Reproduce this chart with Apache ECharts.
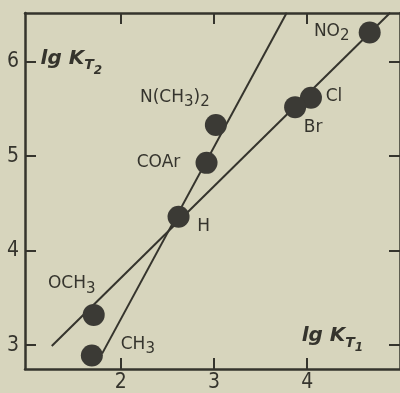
<!DOCTYPE html>
<html><head><meta charset="utf-8">
<script src="https://cdn.jsdelivr.net/npm/echarts@6/dist/echarts.min.js"></script>
<style>html,body{margin:0;padding:0;background:#d7d5bd;}#c{width:400px;height:393px;}</style>
</head><body><div id="c"></div>
<script>
// Data
const substituents = ['NO2', 'Cl', 'Br', 'N(CH3)2', 'COAr', 'H', 'OCH3', 'CH3'];
const lgKT1 = [4.67, 4.04, 3.87, 3.02, 2.92, 2.62, 1.71, 1.69];
const lgKT2 = [6.31, 5.62, 5.52, 5.33, 4.93, 4.36, 3.32, 2.89];
const line1X = [1.26, 4.89];
const line1Y = [2.99, 6.52];
const line2X = [1.80, 3.78];
const line2Y = [2.91, 6.52];
const xTicks = [2, 3, 4];
const yTicks = [3, 4, 5, 6];
const axisTitleX = [1.47, 4.27];
const axisTitleY = [6.02, 3.08];

// Styles
const ink = '#35342d';
const font = 'DejaVu Sans';
const labelText = {
  'NO2': '{m|NO}{s|2}', 'Cl': '{m|Cl}', 'Br': '{m|Br}', 'N(CH3)2': '{m|N(CH}{s|3}{m|)}{s|2}',
  'COAr': '{m|COAr}', 'H': '{m|H}', 'OCH3': '{m|OCH}{s|3}', 'CH3': '{m|CH}{s|3}'
};
const labelOffsets = {
  'NO2': [-38, 0], 'Cl': [23, 0], 'Br': [18, 21], 'N(CH3)2': [-41, -27],
  'COAr': [-48, 1], 'H': [25, 11], 'OCH3': [-22, -30], 'CH3': [46, -10]
};
const richLabel = {
  m: { fontSize: 17, fontFamily: font, color: ink, lineHeight: 19, verticalAlign: 'top' },
  s: { fontSize: 15, fontFamily: font, color: ink, lineHeight: 16, verticalAlign: 'top', padding: [6, 0, 0, 0] }
};
const titleRich = {
  i: { fontSize: 20, fontStyle: 'italic', fontWeight: 'bold', fontFamily: font, color: ink, lineHeight: 23, verticalAlign: 'top' },
  t: { fontSize: 14, fontStyle: 'italic', fontWeight: 'bold', fontFamily: font, color: ink, lineHeight: 15, verticalAlign: 'top', padding: [10, 0, 0, 0] },
  u: { fontSize: 12, fontStyle: 'italic', fontWeight: 'bold', fontFamily: font, color: ink, lineHeight: 13, verticalAlign: 'top', padding: [16, 0, 0, 0] }
};
const titleTexts = ['{i|lg K}{t|T}{u|2}', '{i|lg K}{t|T}{u|1}'];

const axisLineStyle = { color: ink, width: 2.5 };
const tickFont = { fontSize: 21, fontFamily: 'DejaVu Sans Condensed, DejaVu Sans', color: ink };
function xAx(pos, labels) {
  return {
    type: 'value', position: pos, min: 0.973, max: 4.995,
    axisLine: { show: true, onZero: false, lineStyle: axisLineStyle },
    axisTick: { show: true, inside: true, length: 11, customValues: xTicks, lineStyle: { color: ink, width: 2 } },
    axisLabel: Object.assign({ show: labels, customValues: xTicks, margin: 3 }, tickFont),
    splitLine: { show: false }
  };
}
function yAx(pos, labels) {
  return {
    type: 'value', position: pos, min: 2.747, max: 6.517,
    axisLine: { show: true, onZero: false, lineStyle: axisLineStyle },
    axisTick: { show: true, inside: true, length: 11, customValues: yTicks, lineStyle: { color: ink, width: 2 } },
    axisLabel: Object.assign({ show: labels, customValues: yTicks, margin: 6 }, tickFont),
    splitLine: { show: false }
  };
}

const chart = echarts.init(document.getElementById('c'), null, { renderer: 'canvas' });
chart.setOption({
  backgroundColor: '#d7d5bd',
  animation: false,
  grid: { left: 25, top: 13, width: 377, height: 357, containLabel: false },
  xAxis: [xAx('bottom', true), xAx('top', false)],
  yAxis: [yAx('left', true), yAx('right', false)],
  series: [
    {
      type: 'line', data: line1X.map((x, i) => [x, line1Y[i]]), showSymbol: false, clip: true,
      lineStyle: { color: ink, width: 2 }, z: 2
    },
    {
      type: 'line', data: line2X.map((x, i) => [x, line2Y[i]]), showSymbol: false, clip: true,
      lineStyle: { color: ink, width: 2 }, z: 2
    },
    {
      type: 'scatter', symbolSize: 22, z: 3,
      itemStyle: { color: '#3b3a35', opacity: 1 },
      data: substituents.map((n, i) => ({
        name: n, value: [lgKT1[i], lgKT2[i]],
        label: { show: true, position: 'inside', offset: labelOffsets[n], formatter: labelText[n], rich: richLabel }
      }))
    },
    {
      type: 'scatter', symbolSize: 1, z: 4, silent: true,
      itemStyle: { color: 'rgba(0,0,0,0)', opacity: 1 },
      data: axisTitleX.map((x, i) => ({
        value: [x, axisTitleY[i]],
        label: { show: true, position: 'inside', formatter: titleTexts[i], rich: titleRich, opacity: 1 }
      }))
    }
  ]
});
</script>
</body></html>
